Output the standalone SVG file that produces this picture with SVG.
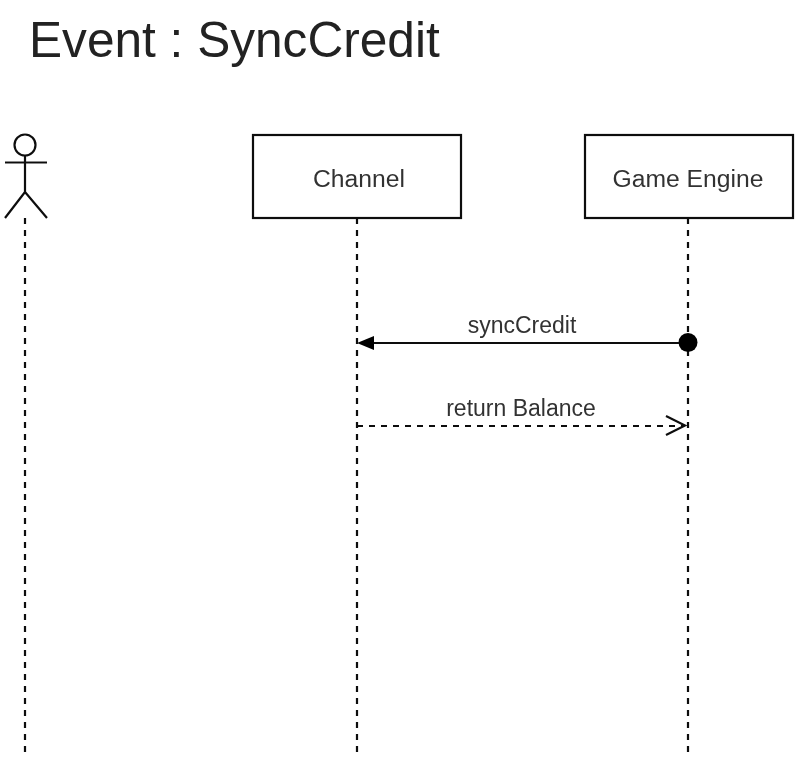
<svg xmlns="http://www.w3.org/2000/svg" width="799" height="764" viewBox="0 0 799 764">
<defs><filter id="soft" x="-5%" y="-5%" width="110%" height="110%"><feGaussianBlur stdDeviation="0.7"/></filter></defs>
<style>
text{font-family:"Liberation Sans",Arial,sans-serif}
.title{font-size:49.6px;fill:#222}
.lbl{font-size:23px;text-anchor:middle;fill:#333}
.name{font-size:24.7px;text-anchor:middle;fill:#333}
.box{fill:#fff;stroke:#111;stroke-width:2.2}
.life{fill:none;stroke:#111;stroke-width:2.2;stroke-dasharray:6 6}
.ln{fill:none;stroke:#111;stroke-width:2.2}
</style>
<rect width="799" height="764" fill="#fff"/>
<g filter="url(#soft)">
<text class="title" x="29" y="57">Event : SyncCredit</text>
<g id="connectors">
<path class="life" d="M25 218V758"/>
<path class="life" d="M357 218V758"/>
<path class="life" d="M688 218V758"/>
<path class="ln" d="M371 343H688"/>
<path d="M357 343L374 336V350Z" fill="#000"/>
<circle cx="688" cy="342.500" r="9.500" fill="#000"/>
<path class="ln" stroke-dasharray="6 6" d="M357 426H684"/>
<path class="ln" d="M666 416L685 425.500L666 435"/>
<text class="lbl" x="522" y="333">syncCredit</text>
<text class="lbl" x="521" y="416">return Balance</text>
</g>
<g id="actor">
<circle class="ln" cx="25" cy="145" r="10.500"/>
<path class="ln" d="M25 155V192M5 162.500H47M25 192L5 218M25 192L47 218"/>
</g>
<g id="channel">
<rect class="box" x="253" y="135" width="208" height="83"/>
<text class="name" x="359" y="187">Channel</text>
</g>
<g id="game-engine">
<rect class="box" x="585" y="135" width="208" height="83"/>
<text class="name" x="688" y="187">Game Engine</text>
</g>
</g>
</svg>
